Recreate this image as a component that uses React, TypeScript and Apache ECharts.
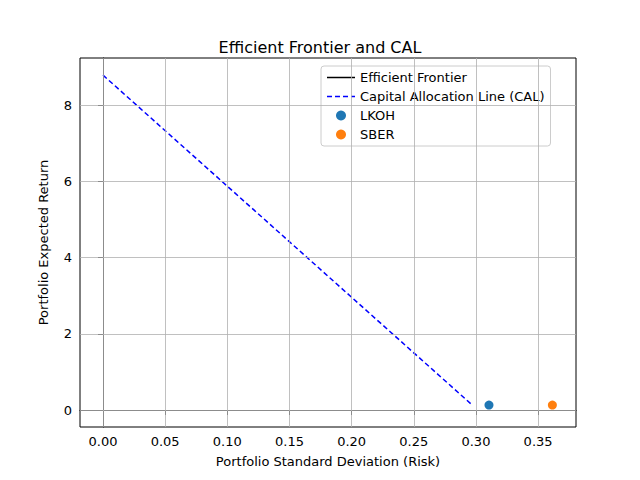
import { useEffect, useRef } from 'react';
import * as echarts from 'echarts';

const calX = [0, 0.296];
const calY = [8.79, 0.16];
const frontier: number[][] = [];
const lkoh = [[0.3105, 0.13]];
const sber = [[0.3615, 0.13]];
const xTicks = [0, 0.05, 0.1, 0.15, 0.2, 0.25, 0.3, 0.35];
const yTicks = [0, 2, 4, 6, 8];

const font = 'DejaVu Sans';
const solidIcon = 'path://M0,0h28v1.5h-28z';
const dashedIcon = 'path://M0,0h5v1.5h-5z M8,0h5v1.5h-5z M16,0h5v1.5h-5z M24,0h4v1.5h-4z';

export default function App() {
  const ref = useRef<HTMLDivElement>(null);

  useEffect(() => {
    if (!ref.current) return;
    const chart = echarts.init(ref.current, null, { renderer: 'svg' });
    const gridLine = { color: '#b0b0b0', width: 0.8, type: 'solid' as const };
    chart.setOption({
      animation: false,
      textStyle: { fontFamily: font },
      title: {
        text: 'Efficient Frontier and CAL',
        left: 'center',
        top: 34,
        textStyle: { fontFamily: font, fontSize: 16, fontWeight: 'normal', color: '#000' },
      },
      grid: { left: 80, right: 64, top: 58, bottom: 53, show: true, borderColor: '#000', borderWidth: 1 },
      legend: {
        data: [
          { name: 'Efficient Frontier', icon: solidIcon },
          { name: 'Capital Allocation Line (CAL)', icon: dashedIcon },
          { name: 'LKOH', icon: 'circle' },
          { name: 'SBER', icon: 'circle' },
        ],
        orient: 'vertical',
        left: 321,
        top: 66,
        itemGap: 6,
        itemWidth: 28,
        itemHeight: 10,
        padding: [5, 6, 5, 6],
        borderColor: '#ccc',
        borderWidth: 1,
        borderRadius: 3,
        textStyle: { fontFamily: font, fontSize: 13, color: '#000' },
      },
      xAxis: {
        type: 'value',
        min: -0.0185,
        max: 0.3805,
        name: 'Portfolio Standard Deviation (Risk)',
        nameLocation: 'middle',
        nameGap: 28,
        nameTextStyle: { fontFamily: font, fontSize: 13, color: '#000' },
        axisLine: { lineStyle: { color: '#000' } },
        axisTick: { customValues: xTicks, lineStyle: { color: '#000' } },
        axisLabel: {
          customValues: xTicks,
          formatter: (v: number) => v.toFixed(2),
          fontFamily: font,
          fontSize: 13,
          color: '#000',
        },
        splitLine: { show: false },
      },
      yAxis: {
        type: 'value',
        min: -0.446,
        max: 9.24,
        name: 'Portfolio Expected Return',
        nameLocation: 'middle',
        nameGap: 30,
        nameTextStyle: { fontFamily: font, fontSize: 13, color: '#000' },
        axisLine: { show: true, lineStyle: { color: '#000' } },
        axisTick: { show: true, customValues: yTicks, lineStyle: { color: '#000' } },
        axisLabel: { customValues: yTicks, fontFamily: font, fontSize: 13, color: '#000' },
        splitLine: { show: false },
      },
      series: [
        {
          name: 'grid',
          type: 'line',
          data: [],
          silent: true,
          markLine: {
            silent: true,
            symbol: 'none',
            label: { show: false },
            lineStyle: gridLine,
            data: [...xTicks.map((x) => ({ xAxis: x })), ...yTicks.map((y) => ({ yAxis: y }))],
          },
        },
        {
          name: 'Efficient Frontier',
          type: 'line',
          data: frontier,
          symbol: 'none',
          lineStyle: { color: '#000', width: 1.5 },
          itemStyle: { color: '#000' },
        },
        {
          name: 'Capital Allocation Line (CAL)',
          type: 'line',
          data: calX.map((x, i) => [x, calY[i]]),
          symbol: 'none',
          lineStyle: { color: '#0000ff', width: 1.5, type: [5, 3] },
          itemStyle: { color: '#0000ff' },
        },
        {
          name: 'LKOH',
          type: 'scatter',
          data: lkoh,
          symbolSize: 9,
          itemStyle: { color: '#1f77b4', opacity: 1 },
        },
        {
          name: 'SBER',
          type: 'scatter',
          data: sber,
          symbolSize: 9,
          itemStyle: { color: '#ff7f0e', opacity: 1 },
        },
      ],
    });
    return () => chart.dispose();
  }, []);

  return <div ref={ref} style={{ position: 'absolute', left: 0, top: 0, width: 640, height: 480 }} />;
}
